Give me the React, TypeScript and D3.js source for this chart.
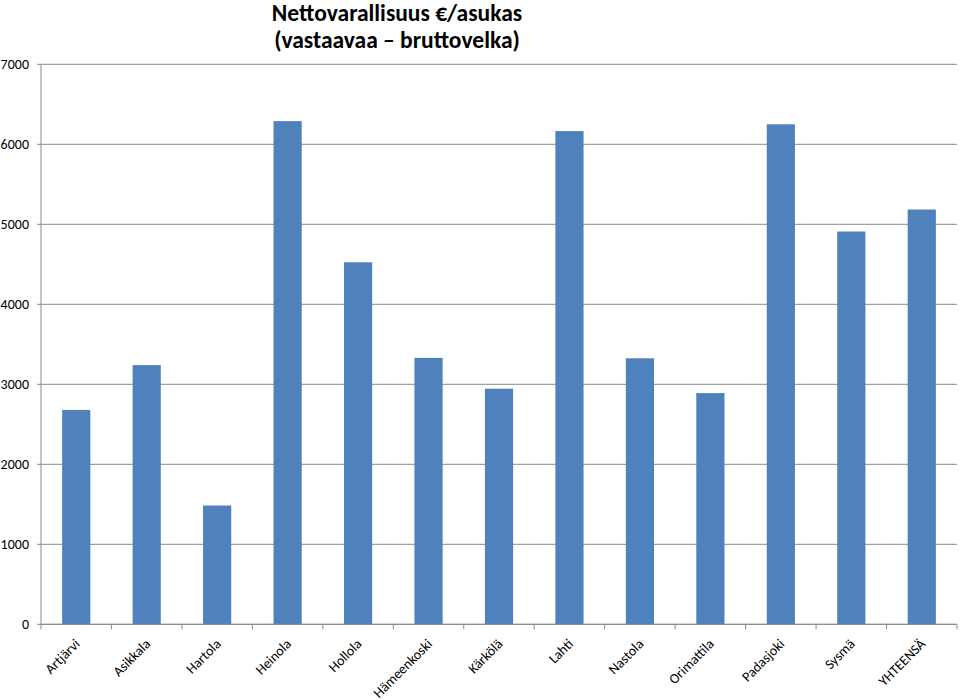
import React from 'react';
import { scaleBand, scaleLinear } from 'd3';

const categories = [
  'Artjärvi', 'Asikkala', 'Hartola', 'Heinola', 'Hollola', 'Hämeenkoski', 'Kärkölä',
  'Lahti', 'Nastola', 'Orimattila', 'Padasjoki', 'Sysmä', 'YHTEENSÄ',
];
const values = [2680, 3240, 1485, 6290, 4525, 3330, 2945, 6165, 3325, 2890, 6250, 4910, 5185];
const yTicks = [0, 1000, 2000, 3000, 4000, 5000, 6000, 7000];
const titleLines = ['Nettovarallisuus €/asukas', '(vastaavaa – bruttovelka)'];

const font = 'Carlito, Calibri, Lato, sans-serif';

const App = () => {
  const left = 41;
  const right = 957;
  const top = 64.3;
  const bottom = 624.3;

  // bars: Excel-style gap width 150%
  const x = scaleBand<string>().domain(categories).range([left, right]).paddingInner(0.6).paddingOuter(0.3);
  const band = scaleBand<string>().domain(categories).range([left, right]);
  const y = scaleLinear().domain([0, 7000]).range([bottom, top]);

  return (
    <svg width={960} height={700} style={{ position: 'absolute', left: 0, top: 0, background: '#fff' }}>
      {/* title */}
      {titleLines.map((t, i) => (
        <text key={t} x={397} y={21 + i * 27} textAnchor="middle" fontFamily={font} fontWeight="bold" fontSize={23.5} fill="#000">
          {t}
        </text>
      ))}

      {/* gridlines + y labels */}
      {yTicks.map((t) => (
        <g key={t}>
          <line x1={37} x2={right} y1={y(t)} y2={y(t)} stroke="#8a8a8a" strokeWidth={1} />
          <text x={29} y={y(t)} dy="0.35em" textAnchor="end" fontFamily={font} fontSize={14} fill="#000">
            {t}
          </text>
        </g>
      ))}
      <line x1={left} x2={left} y1={top} y2={bottom} stroke="#8a8a8a" />

      {/* bars */}
      {categories.map((c, i) => (
        <rect key={c} x={x(c)} y={y(values[i])} width={x.bandwidth()} height={bottom - y(values[i])} fill="#4F81BD" />
      ))}

      {/* x axis */}
      <line x1={left} x2={right} y1={bottom} y2={bottom} stroke="#8a8a8a" />
      {categories.map((c) => (
        <line key={c} x1={band(c)} x2={band(c)} y1={bottom} y2={bottom + 5} stroke="#8a8a8a" />
      ))}
      <line x1={right} x2={right} y1={bottom} y2={bottom + 5} stroke="#8a8a8a" />
      {categories.map((c) => {
        const cx = (band(c) as number) + band.bandwidth() / 2 + 1;
        return (
          <text
            key={c}
            transform={`translate(${cx},${bottom + 17}) rotate(-45)`}
            textAnchor="end"
            dy="0.35em"
            fontFamily={font}
            fontSize={14}
            fill="#000"
          >
            {c}
          </text>
        );
      })}
    </svg>
  );
};

export default App;
